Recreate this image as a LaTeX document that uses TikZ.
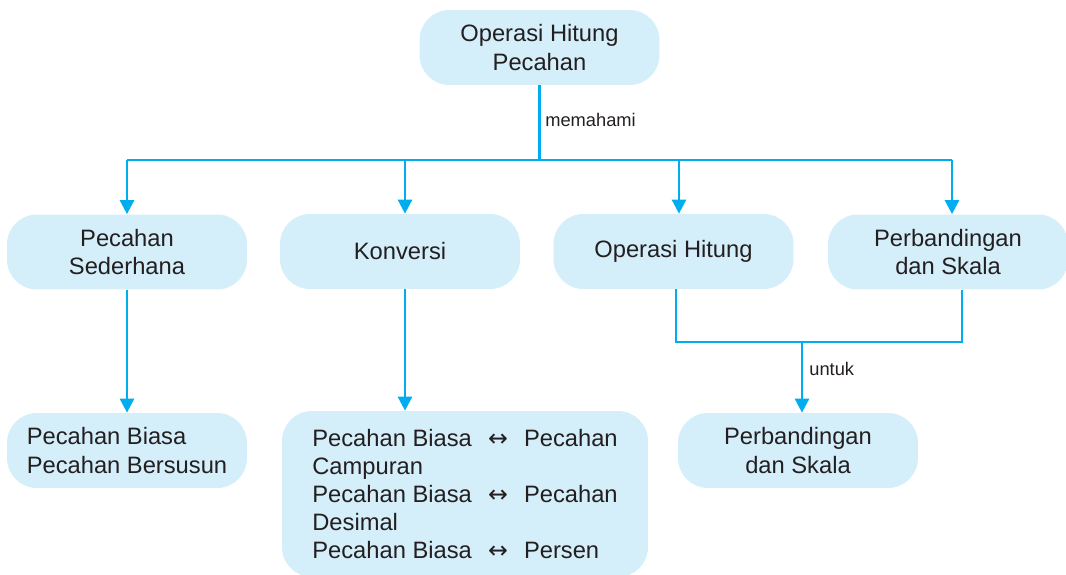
\documentclass[tikz,border=0pt]{standalone}
\usepackage{fontspec}
\setmainfont{Liberation Sans}
\newfontfamily\arrowfont{DejaVu Sans}
\usetikzlibrary{arrows.meta}
\usetikzlibrary{positioning}

\definecolor{boxfill}{HTML}{D4EEFA}
\definecolor{linkcol}{HTML}{00AEEF}
\definecolor{txtcol}{HTML}{231F20}

\newcommand{\twoway}{\hspace{0.68em}{\arrowfont ↔}\hspace{0.68em}}

\begin{document}
\begin{tikzpicture}[
x=0.02cm, y=-0.02cm,
box/.style={
fill=boxfill,
rounded corners=17pt,
minimum width=4.8cm,
minimum height=1.5cm,
align=center,
text=txtcol,
inner sep=2pt,
font=\fontsize{13.5}{16}\selectfont
},
link/.style={
draw=linkcol,
line width=1.5pt
},
arr/.style={
link,
-{Triangle[width=8pt,length=8pt]}
},
lbl/.style={
text=txtcol,
inner sep=0pt,
font=\fontsize{10.4}{12}\selectfont
}
]
\useasboundingbox (0,0) rectangle (1066,575);

\node[box] (top)  at (539.5,47.5)  {Operasi Hitung\\Pecahan};
\node[box] (sed)  at (127,252) {Pecahan\\Sederhana};
\node[box] (kon)  at (400,251.5) {Konversi};
\node[box] (oph)  at (673.5,251.5) {Operasi Hitung};
\node[box] (pds)  at (948,252) {Perbandingan\\dan Skala};

\node[box, align=left] (bia) at (127,450.5) {Pecahan Biasa\\Pecahan Bersusun};
\node[box, align=left, minimum width=7.32cm, minimum height=3.32cm] (cvt) at (465,494)
{Pecahan Biasa\twoway Pecahan\\
Campuran\\
Pecahan Biasa\twoway Pecahan\\
Desimal\\
Pecahan Biasa\twoway Persen};
\node[box] (pds2) at (798,450.5) {Perbandingan\\dan Skala};

% bus under the top box
\coordinate (bus) at (539.5,160);
\coordinate (j1) at (127,160);
\coordinate (j2) at (405,160);
\coordinate (j3) at (679,160);
\coordinate (j4) at (952,160);

\draw[link] (top.south) -- (bus);
\draw[link] (j1) -- (j4);
\draw[arr] (j1) -- (j1 |- sed.north);
\draw[arr] (j2) -- (j2 |- kon.north);
\draw[arr] (j3) -- (j3 |- oph.north);
\draw[arr] (j4) -- (j4 |- pds.north);
\node[lbl, anchor=west] (mem) at (545,120) {memahami};

\draw[arr] (sed.south) -- (bia.north);
\draw[arr] ([xshift=0.1cm]kon.south) -- ([xshift=0.1cm]kon.south |- cvt.north);

% join of the two right boxes
\coordinate (m) at (802,342);
\draw[link] ([xshift=0.05cm]oph.south) |- (m) -| ([xshift=0.28cm]pds.south);
\draw[arr] (m) -- (m |- pds2.north);
\node[lbl, anchor=west] (utk) at (809,369) {untuk};

\end{tikzpicture}
\end{document}
